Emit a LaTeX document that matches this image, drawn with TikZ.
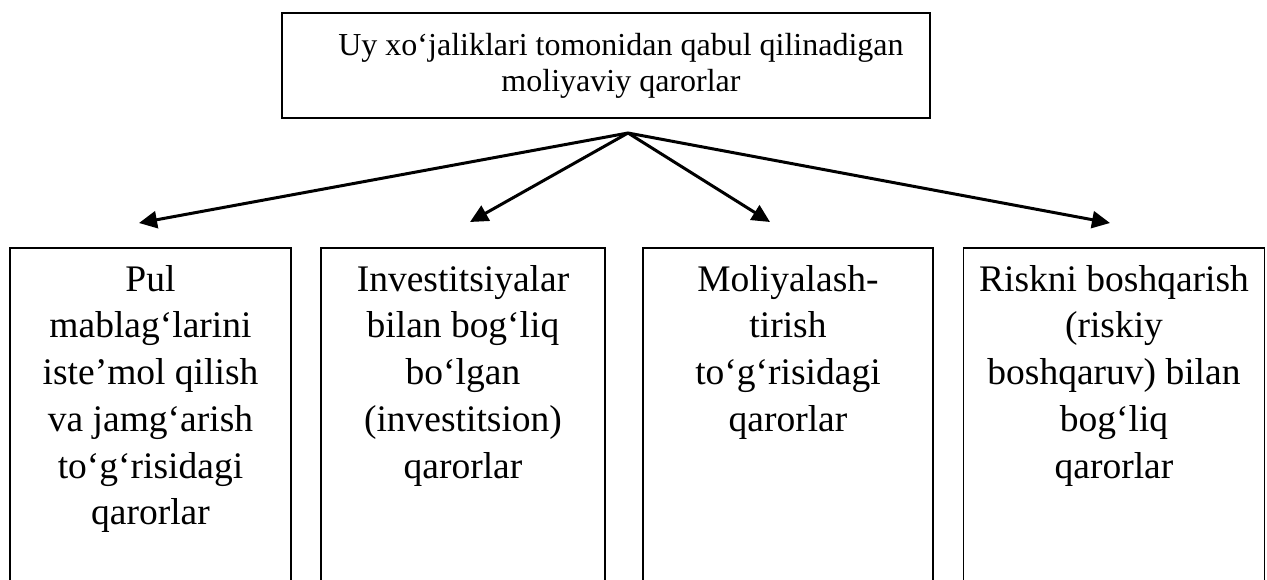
\documentclass[tikz,border=0pt]{standalone}
\usepackage{fontspec}
\setmainfont{Liberation Serif}
\usetikzlibrary{arrows.meta}
\begin{document}
\begin{tikzpicture}[x=1pt,y=-1pt,
  topbox/.style={draw, line width=1.8pt, minimum width=648pt, minimum height=105pt, inner sep=0pt},
  toptext/.style={align=center, inner sep=0pt, font=\fontsize{32}{36}\selectfont},
  catbox/.style={draw, line width=1.5pt, minimum height=350pt, inner sep=0pt, anchor=north},
  cattext/.style={anchor=north, align=center, inner sep=0pt,
    font=\fontsize{37.5}{46.7}\selectfont},
  branch/.style={line width=3pt, -{Triangle[length=18pt,width=17pt]}}]
\useasboundingbox (0,0) rectangle (1267,579);
\clip (0,0) rectangle (1267,579);

% root decision box
\node[topbox] (root) at (606,65.5) {};
\node[toptext] (roottext) at (621,65.5)
  {Uy xo‘jaliklari tomonidan qabul qilinadigan\\moliyaviy qarorlar};

% category boxes (open towards the bottom of the page)
\node[catbox, minimum width=281pt] (c1) at (150.5,247) {};
\node[catbox, minimum width=284pt] (c2) at (463,247) {};
\node[catbox, minimum width=290pt] (c3) at (788,247) {};
\node[catbox, minimum width=301pt] (c4) at (1114,247) {};

\node[cattext] (t1) at (150.5,265)
  {Pul\\mablag‘larini\\iste’mol qilish\\va jamg‘arish\\to‘g‘risidagi\\qarorlar};
\node[cattext] (t2) at (463,265)
  {Investitsiyalar\\bilan bog‘liq\\bo‘lgan\\(investitsion)\\qarorlar};
\node[cattext] (t3) at (788,265)
  {Moliyalash-\\tirish\\to‘g‘risidagi\\qarorlar};
\node[cattext] (t4) at (1114,265)
  {Riskni boshqarish\\(riskiy\\boshqaruv) bilan\\bog‘liq\\qarorlar};

% branching arrows
\coordinate (hub) at (628,133);
\coordinate (e1) at (139,223);
\coordinate (e2) at (470,222);
\coordinate (e3) at (770,222);
\coordinate (e4) at (1110,223);
\foreach \e in {e1,e2,e3,e4}
  \draw[branch] (hub) -- (\e);
\end{tikzpicture}
\end{document}
